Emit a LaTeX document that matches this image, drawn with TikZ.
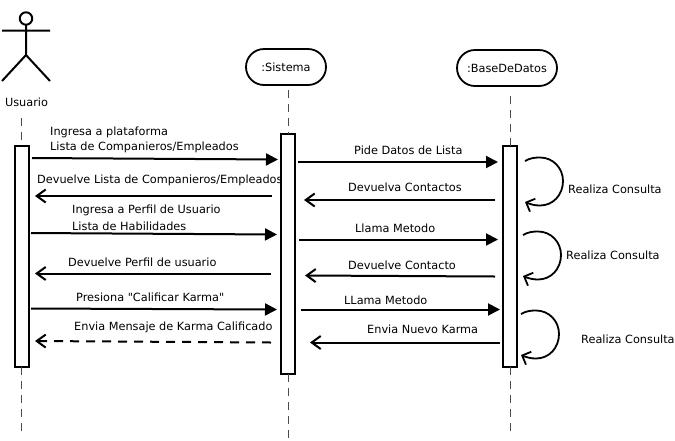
\documentclass[tikz,border=0pt]{standalone}
\usepackage{fontspec}
\setmainfont[Ligatures=TeXOff]{DejaVu Sans}
\usetikzlibrary{arrows.meta}
\tikzset{
  bar/.style={draw,fill=white,line width=2pt,minimum width=14pt,inner sep=0pt,outer sep=0pt},
  object/.style={draw,line width=1.8pt,rounded corners=18pt,minimum height=36pt,inner sep=0pt,font=\fontsize{11.3}{13}\selectfont},
  lifeline/.style={line width=1pt,dash pattern=on 8pt off 6pt,black!70},
  txt/.style={anchor=west,inner sep=0pt,text height=8pt,text depth=2pt,font=\fontsize{11.3}{13}\selectfont},
  call/.style={line width=2pt,-{Triangle[length=12pt,width=12pt]}},
  reply/.style={line width=2pt,-{Straight Barb[length=9pt,width=13pt,line width=2pt]}},
  selfcall/.style={line width=1.8pt,-{Straight Barb[length=7pt,width=14pt,line width=1.8pt]}},
}
\newcommand{\drawmsg}[6]{
  \coordinate (#2a) at (#3); \coordinate (#2b) at (#4);
  \draw[#1] (#2a)--(#2b);
  \node[txt] (#2t) at (#5) {#6};
}
\newcommand{\drawself}[4]{
  \begin{scope}[shift={(#2,#3)}]
  \coordinate (#1a) at (0,0); \coordinate (#1b) at (0,41);
  \draw[selfcall] (#1a) .. controls (5,-3) and (10,-3.5) .. (15,-3.5)
    .. controls (28,-3.5) and (38,7) .. (38,20)
    .. controls (38,34) and (28,44.5) .. (15,44.5)
    .. controls (10,44.5) and (6,43.5) .. (#1b);
  \end{scope}
  \node[txt] (#1t) at (#4) {Realiza Consulta};
}
\begin{document}
\begin{tikzpicture}[x=1pt,y=-1pt]
\useasboundingbox[fill=white] (0,0) rectangle (675,440);
% actor
\draw[line width=2pt] (26,18.5) circle (6.2pt);
\draw[line width=2pt] (2,30.5)--(50,30.5) (26,24.7)--(26,55) (2,81)--(26,55)--(50,81);
\node[txt,anchor=center] (usuario) at (26.5,103) {Usuario};
% objects
\node[object,minimum width=80pt] (sistema) at (286,67) {:Sistema};
\node[object,minimum width=100pt] (base) at (507,68) {:BaseDeDatos};
% bars
\node[bar,minimum height=221pt] (barU) at (21.5,256.5) {};
\node[bar,minimum height=240.5pt] (barS) at (288,253.8) {};
\node[bar,minimum height=220.5pt] (barD) at (510,256.7) {};
% lifelines
\coordinate (topU) at (21.5,118);\coordinate (topS) at (288,90);\coordinate (topD) at (510,96);
\coordinate (endU) at (21.5,432);\coordinate (endS) at (288,440);\coordinate (endD) at (510,433);
\draw[lifeline] (topU)--(barU.north);\draw[lifeline] (barU.south)--(endU);
\draw[lifeline] (topS)--(barS.north);\draw[lifeline] (barS.south)--(endS);
\draw[lifeline] (topD)--(barD.north);\draw[lifeline] (barD.south)--(endD);
% Usuario <-> Sistema
\node[txt] (m1x) at (50,132) {Ingresa a plataforma};
\drawmsg{call}{m1}{32,158}{278,159.5}{50,147}{Lista de Companieros/Empleados}
\drawmsg{reply}{m2}{272,196}{35,196}{37,180}{Devuelve Lista de Companieros/Empleados}
\node[txt] (m3x) at (72,210.5) {Ingresa a Perfil de Usuario};
\drawmsg{call}{m3}{31,233}{277,234.5}{72,227}{Lista de Habilidades}
\drawmsg{reply}{m4}{271,273.5}{35,273.5}{68,263.5}{Devuelve Perfil de usuario}
\drawmsg{call}{m5}{31,308.5}{277,309.5}{76,298}{Presiona "Calificar Karma"}
\drawmsg{reply,dash pattern=on 9pt off 7pt}{m6}{271,342.5}{35,341}{74,327.5}{Envia Mensaje de Karma Calificado}
% Sistema <-> BaseDeDatos
\drawmsg{call}{n1}{298,162}{498,162}{354,151.5}{Pide Datos de Lista}
\drawmsg{reply}{n2}{495,200}{304,200}{348,188.5}{Devuelva Contactos}
\drawmsg{call}{n3}{299,239.5}{498,239.5}{355,229}{Llama Metodo}
\drawmsg{reply}{n4}{495,276.5}{305,275.5}{348,266.5}{Devuelve Contacto}
\drawmsg{call}{n5}{301,309.5}{500,309.5}{344,301.5}{LLama Metodo}
\drawmsg{reply}{n6}{500,342.5}{310,342.5}{367,330.5}{Envia Nuevo Karma}
% consultas
\drawself{s1}{525}{161}{568,190.5}
\drawself{s2}{523}{235}{566,256.5}
\drawself{s3}{521}{314}{581,340.5}
\end{tikzpicture}
\end{document}
